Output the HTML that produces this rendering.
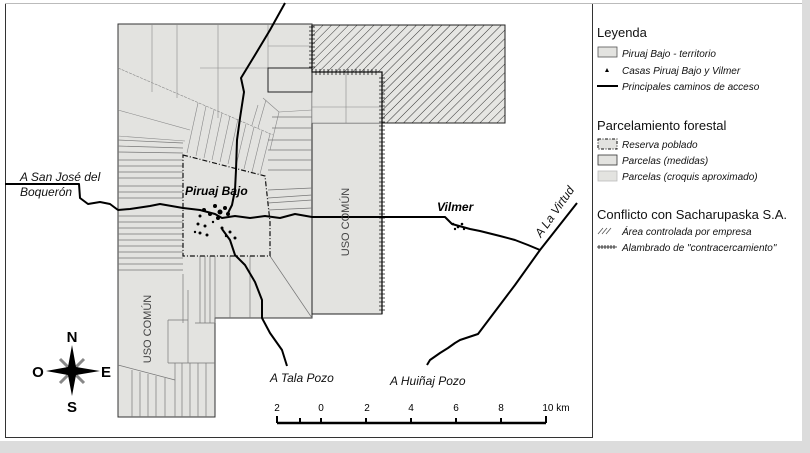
<!DOCTYPE html>
<html><head><meta charset="utf-8"><style>
html,body{margin:0;padding:0;background:#dcdcdc;}
svg{display:block;}
text{font-family:"Liberation Sans","DejaVu Sans",sans-serif;}
</style></head><body>
<svg width="810" height="453" viewBox="0 0 810 453" xmlns="http://www.w3.org/2000/svg">
<defs>
<pattern id="h" width="6" height="6" patternUnits="userSpaceOnUse" patternTransform="rotate(45)">
<rect width="6" height="6" fill="#e6e6e3"/><line x1="0" y1="0" x2="0" y2="6" stroke="#333" stroke-width="1"/></pattern>
<pattern id="fv" width="4" height="6" patternUnits="userSpaceOnUse"><line x1="2" y1="0" x2="2" y2="6" stroke="#111" stroke-width="1"/></pattern>
</defs>
<rect x="0" y="0" width="802" height="441" fill="#fff"/>
<rect x="5.5" y="3.5" width="587" height="434" fill="none" stroke="#333" stroke-width="1"/>
<line x1="5" y1="3.5" x2="802" y2="3.5" stroke="#bbb"/>

<!-- territory -->
<path d="M118,24 H312 V318 H215 V417 H118 Z" fill="#e3e3e0" stroke="#333" stroke-width="1"/>
<rect x="312" y="123" width="70" height="191" fill="#e3e3e0" stroke="#222"/>
<rect x="312" y="72" width="70" height="51" fill="#e3e3e0" stroke="#888" stroke-width="0.6"/>
<path d="M312,25 H505 V123 H382 V72 H312 Z" fill="url(#h)" stroke="#222" stroke-width="1"/>
<g stroke="#888" stroke-width="0.6" fill="none">
<line x1="346" y1="72" x2="346" y2="123"/><line x1="312" y1="107" x2="382" y2="107"/>
<line x1="152" y1="24" x2="152" y2="92"/><line x1="177" y1="24" x2="177" y2="98"/>
<line x1="218" y1="24" x2="218" y2="118"/><line x1="268" y1="24" x2="268" y2="92"/>
<line x1="268" y1="46" x2="312" y2="46"/><line x1="200" y1="68" x2="312" y2="68"/>
<line x1="118" y1="68" x2="273" y2="135" stroke-dasharray="3,1"/>
<line x1="118" y1="110" x2="190" y2="130"/><line x1="118" y1="136" x2="185" y2="141"/>
<line x1="263" y1="98" x2="279" y2="112"/><line x1="279" y1="112" x2="270" y2="150"/>
<line x1="279" y1="112" x2="312" y2="110"/>
</g>
<rect x="268" y="68" width="44" height="24" fill="none" stroke="#222"/>
<g stroke="#888" stroke-width="0.6">
<line x1="198" y1="103" x2="187" y2="153"/><line x1="206" y1="106" x2="196" y2="156"/>
<line x1="214" y1="110" x2="204" y2="158"/><line x1="222" y1="113" x2="212" y2="160"/>
<line x1="230" y1="116" x2="220" y2="162"/><line x1="238" y1="119" x2="228" y2="164"/>
<line x1="246" y1="124" x2="236" y2="166"/><line x1="254" y1="127" x2="244" y2="169"/>
<line x1="262" y1="131" x2="252" y2="172"/><line x1="270" y1="134" x2="260" y2="174"/>
<line x1="266" y1="100" x2="258" y2="128"/><line x1="258" y1="105" x2="252" y2="125"/>
</g>
<g stroke="#777" stroke-width="0.7">
<line x1="118" y1="140" x2="183" y2="143"/><line x1="118" y1="146" x2="183" y2="148"/>
<line x1="118" y1="152" x2="183" y2="153"/><line x1="118" y1="160" x2="183" y2="160"/>
<line x1="118" y1="166" x2="183" y2="166"/><line x1="118" y1="172" x2="183" y2="172"/>
<line x1="118" y1="178" x2="183" y2="178"/><line x1="118" y1="186" x2="183" y2="186"/>
<line x1="118" y1="192" x2="183" y2="192"/><line x1="118" y1="198" x2="183" y2="198"/>
<line x1="118" y1="216" x2="183" y2="216"/><line x1="118" y1="222" x2="183" y2="222"/>
<line x1="118" y1="228" x2="183" y2="228"/><line x1="118" y1="234" x2="183" y2="234"/>
<line x1="118" y1="240" x2="183" y2="240"/><line x1="118" y1="246" x2="183" y2="246"/>
<line x1="118" y1="252" x2="183" y2="252"/><line x1="118" y1="258" x2="183" y2="258"/>
<line x1="118" y1="264" x2="183" y2="264"/><line x1="118" y1="270" x2="183" y2="270"/>
<line x1="272" y1="117" x2="312" y2="117"/><line x1="272" y1="128" x2="312" y2="128"/>
<line x1="268" y1="140" x2="312" y2="140"/><line x1="268" y1="150" x2="312" y2="150"/>
<line x1="268" y1="160" x2="312" y2="160"/><line x1="268" y1="170" x2="312" y2="170"/>
<line x1="268" y1="190" x2="312" y2="188"/><line x1="268" y1="198" x2="312" y2="195"/>
<line x1="268" y1="203" x2="312" y2="200"/><line x1="268" y1="210" x2="312" y2="208"/>
<line x1="183" y1="274" x2="183" y2="323"/>
<line x1="200" y1="256" x2="200" y2="323"/><line x1="205" y1="256" x2="205" y2="323"/>
<line x1="210" y1="256" x2="210" y2="323"/><line x1="215" y1="256" x2="215" y2="323"/>
<line x1="230" y1="256" x2="230" y2="318"/><line x1="250" y1="256" x2="250" y2="318"/>
<line x1="270" y1="256" x2="312" y2="318"/>
<line x1="188" y1="290" x2="188" y2="363"/><line x1="195" y1="323" x2="215" y2="323"/>
<line x1="168" y1="320" x2="188" y2="320"/><line x1="168" y1="320" x2="168" y2="363"/>
<line x1="168" y1="363" x2="215" y2="363"/>
<line x1="118" y1="365" x2="175" y2="380"/>
<line x1="132" y1="370" x2="132" y2="417"/><line x1="140" y1="372" x2="140" y2="417"/>
<line x1="148" y1="374" x2="148" y2="417"/><line x1="156" y1="376" x2="156" y2="417"/>
<line x1="165" y1="378" x2="165" y2="417"/><line x1="175" y1="363" x2="175" y2="417"/>
<line x1="182" y1="363" x2="182" y2="417"/><line x1="190" y1="363" x2="190" y2="417"/>
<line x1="198" y1="363" x2="198" y2="417"/><line x1="206" y1="363" x2="206" y2="417"/>
</g>
<!-- reserve -->
<path d="M183,155 L265,176 L270,222 L270,256 L183,256 Z" fill="#e3e3e0" stroke="#111" stroke-width="1.2" stroke-dasharray="5,2,1,2"/>
<!-- fences -->
<g stroke="#111" stroke-width="1.3" fill="none">
<path d="M312,25 V72 H382 V314"/>
</g>
<g stroke="#111" stroke-width="0.8">
<path d="M309,27 h6 M309,31 h6 M309,35 h6 M309,39 h6 M309,43 h6 M309,47 h6 M309,51 h6 M309,55 h6 M309,59 h6 M309,63 h6 M309,67 h6"/>
<path d="M316,69 v6 M320,69 v6 M324,69 v6 M328,69 v6 M332,69 v6 M336,69 v6 M340,69 v6 M344,69 v6 M348,69 v6 M352,69 v6 M356,69 v6 M360,69 v6 M364,69 v6 M368,69 v6 M372,69 v6 M376,69 v6"/>
</g>
<rect x="379" y="74" width="6" height="240" fill="url(#fv)" transform="rotate(0)"/>
<g stroke="#111" stroke-width="0.8">
<path d="M379,78 h6 M379,82 h6 M379,86 h6 M379,90 h6 M379,94 h6 M379,98 h6 M379,102 h6 M379,106 h6 M379,110 h6 M379,114 h6 M379,118 h6 M379,122 h6 M379,126 h6 M379,130 h6 M379,134 h6 M379,138 h6 M379,142 h6 M379,146 h6 M379,150 h6 M379,154 h6 M379,158 h6 M379,162 h6 M379,166 h6 M379,170 h6 M379,174 h6 M379,178 h6 M379,182 h6 M379,186 h6 M379,190 h6 M379,194 h6 M379,198 h6 M379,202 h6 M379,206 h6 M379,210 h6 M379,214 h6 M379,218 h6 M379,222 h6 M379,226 h6 M379,230 h6 M379,234 h6 M379,238 h6 M379,242 h6 M379,246 h6 M379,250 h6 M379,254 h6 M379,258 h6 M379,262 h6 M379,266 h6 M379,270 h6 M379,274 h6 M379,278 h6 M379,282 h6 M379,286 h6 M379,290 h6 M379,294 h6 M379,298 h6 M379,302 h6 M379,306 h6 M379,310 h6"/>
</g>
<rect x="379" y="74" width="6" height="240" fill="none"/>
<!-- roads -->
<g stroke="#000" stroke-width="2" fill="none" stroke-linejoin="round">
<path d="M285,3 L270,30 L255,55 L241,78 L244,92 L240,118 L237,140 L236,170 L235,190 L232,205 L228,213"/>
<path d="M5,184 H79 L80,198 L88,204 L100,202 L110,204 L118,210 L130,209 L150,206 L160,204 L183,208 L200,210 L215,214 L222,218 L235,216 L250,218 L265,216 L280,218 L295,214 L312,217 H445 L452,224 L470,229 L480,231 L500,236 L515,240 L528,245 L540,250"/>
<path d="M577,203 L540,250 L515,285 L478,334 L460,340 L455,343 L448,348 L440,353 L430,360 L427,365"/>
<path d="M222,229 L230,240 L235,255 L245,265 L255,282 L262,300 L262,318 L270,333 L282,350 L287,366"/>
</g>
<!-- houses -->
<g fill="#000">
<circle cx="204" cy="210" r="2"/><circle cx="210" cy="214" r="2"/><circle cx="215" cy="206" r="2"/><circle cx="220" cy="212" r="2.5"/><circle cx="225" cy="208" r="2"/><circle cx="228" cy="214" r="2"/><circle cx="218" cy="218" r="2"/><circle cx="200" cy="216" r="1.5"/><circle cx="198" cy="224" r="1.5"/><circle cx="205" cy="226" r="1.5"/><circle cx="200" cy="233" r="1.5"/><circle cx="207" cy="235" r="1.5"/><circle cx="195" cy="232" r="1.2"/><circle cx="222" cy="228" r="1.5"/><circle cx="230" cy="232" r="1.5"/><circle cx="235" cy="238" r="1.5"/><circle cx="226" cy="236" r="1.2"/><circle cx="213" cy="222" r="1.2"/>
<circle cx="453" cy="224" r="1.3"/><circle cx="458" cy="227" r="1.3"/><circle cx="462" cy="224" r="1.3"/><circle cx="455" cy="229" r="1.2"/><circle cx="464" cy="229" r="1.2"/>
</g>
<!-- labels -->
<g font-style="italic" font-size="12" fill="#111">
<text x="20" y="181">A San José del</text>
<text x="20" y="196">Boquerón</text>
<text x="270" y="382">A Tala Pozo</text>
<text x="390" y="385">A Huiñaj Pozo</text>
<text x="0" y="0" transform="translate(541,238) rotate(-55)">A La Virtud</text>
</g>
<text x="185" y="195" font-size="12" font-weight="bold" font-style="italic">Piruaj Bajo</text>
<text x="437" y="211" font-size="12" font-weight="bold" font-style="italic">Vilmer</text>
<text transform="translate(349,222) rotate(-90)" font-size="11" fill="#444" text-anchor="middle">USO COMÚN</text>
<text transform="translate(151,329) rotate(-90)" font-size="11" fill="#444" text-anchor="middle">USO COMÚN</text>
<!-- compass -->
<g>
<path d="M72,371 L84,359 L75,368 Z M72,371 L60,359 L69,368 Z M72,371 L84,383 L75,374 Z M72,371 L60,383 L69,374 Z" fill="#888" stroke="#888" stroke-width="3"/>
<path d="M72,345 L76,367 L100,371 L76,375 L72,396 L68,375 L46,371 L68,367 Z" fill="#000"/>
<g font-weight="bold" font-size="15" text-anchor="middle"><text x="72" y="342">N</text><text x="72" y="412">S</text><text x="38" y="377">O</text><text x="106" y="377">E</text></g>
</g>
<!-- scale -->
<g stroke="#000" fill="none">
<line x1="277" y1="423" x2="546" y2="423" stroke-width="2.5"/>
<path d="M277,416 V423 M300,418 V423 M321,418 V423 M366,418 V423 M411,418 V423 M456,418 V423 M501,418 V423 M546,416 V423" stroke-width="2"/>
</g>
<g font-size="10" text-anchor="middle"><text x="277" y="411">2</text><text x="321" y="411">0</text><text x="367" y="411">2</text><text x="411" y="411">4</text><text x="456" y="411">6</text><text x="501" y="411">8</text><text x="556" y="411">10 km</text></g>
<!-- legend -->
<g font-size="13" fill="#111"><text x="597" y="37">Leyenda</text><text x="597" y="130">Parcelamiento forestal</text><text x="597" y="219">Conflicto con Sacharupaska S.A.</text></g>
<g font-size="10" font-style="italic" fill="#111">
<text x="622" y="57">Piruaj Bajo - territorio</text>
<text x="622" y="74">Casas Piruaj Bajo y Vilmer</text>
<text x="622" y="90">Principales caminos de acceso</text>
<text x="622" y="148">Reserva poblado</text>
<text x="622" y="164">Parcelas (medidas)</text>
<text x="622" y="180">Parcelas (croquis aproximado)</text>
<text x="622" y="235">Área controlada por empresa</text>
<text x="622" y="251">Alambrado de "contracercamiento"</text>
</g>
<rect x="598" y="47" width="19" height="10" fill="#e3e3e0" stroke="#555" stroke-width="0.8"/>
<path d="M607,68 L609,72 L605,72 Z" fill="#000"/>
<line x1="597" y1="86" x2="618" y2="86" stroke="#000" stroke-width="2"/>
<rect x="598" y="139" width="19" height="10" fill="#e3e3e0" stroke="#111" stroke-dasharray="3,1.5,1,1.5"/>
<rect x="598" y="155" width="19" height="10" fill="#e3e3e0" stroke="#333" stroke-width="0.8"/>
<rect x="598" y="171" width="19" height="10" fill="#e3e3e0" stroke="#bbb" stroke-width="0.8"/>
<path d="M598,234 l5,-6 M602,234 l5,-6 M606,234 l5,-6" stroke="#555" stroke-width="0.8"/>
<path d="M597,247 h20 M599,245 v4 M602,245 v4 M605,245 v4 M608,245 v4 M611,245 v4 M614,245 v4" stroke="#111" stroke-width="0.8"/>
</svg>
</body></html>
